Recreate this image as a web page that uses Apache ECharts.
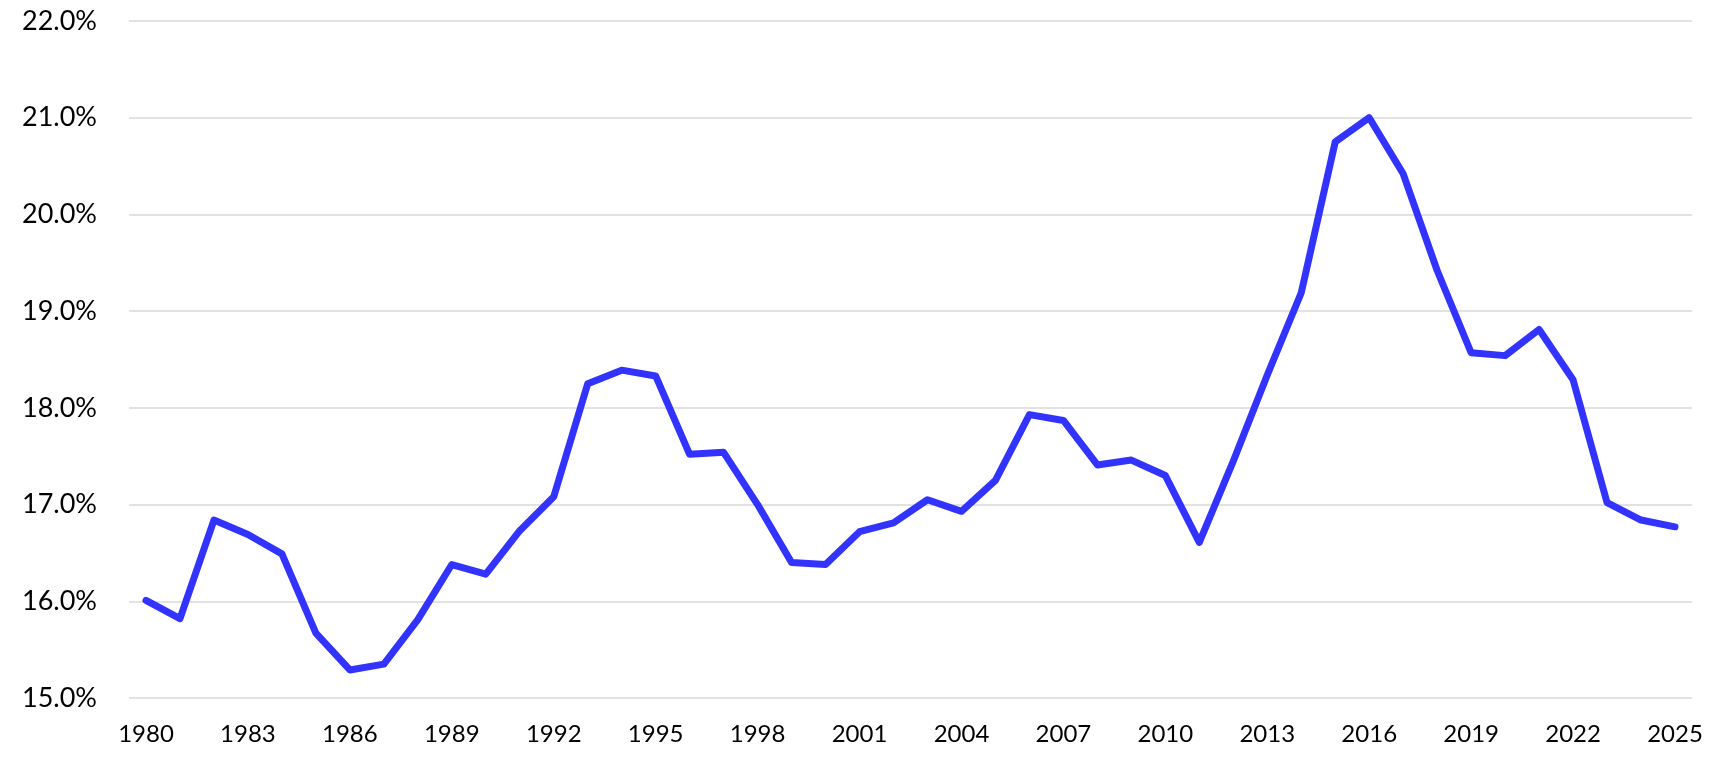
<!DOCTYPE html>
<html>
<head>
<meta charset="utf-8">
<script src="https://cdn.jsdelivr.net/npm/echarts@6/dist/echarts.min.js"></script>
<style>
  html, body { margin: 0; padding: 0; background: #fff; }
  #chart { width: 1725px; height: 764px; }
</style>
</head>
<body>
<div id="chart"></div>
<script>
// years on the x axis
var years = [];
for (var y = 1980; y <= 2025; y++) years.push(String(y));

// share, in percent
var shareValues = [
  16.01, 15.82, 16.84, 16.69, 16.49, 15.67, 15.29, 15.35, 15.81, 16.38,
  16.28, 16.73, 17.08, 18.25, 18.39, 18.33, 17.52, 17.54, 17.00, 16.40,
  16.38, 16.72, 16.81, 17.05, 16.93, 17.25, 17.93, 17.87, 17.41, 17.46,
  17.30, 16.61, 17.45, 18.34, 19.19, 20.75, 21.00, 20.42, 19.42, 18.57,
  18.54, 18.81, 18.29, 17.02, 16.84, 16.77
];

var yMin = 15, yMax = 22, yStep = 1;

function draw_chart(){
    var chart = echarts.init(document.getElementById('chart'));
    var option = {
        animation: false,
        backgroundColor: '#fff',
        grid: { left: 129, right: 33, top: 21, bottom: 66 },
        xAxis: {
            type: 'category',
            data: years,
            boundaryGap: true,
            axisLine: { show: false },
            axisTick: { show: false },
            axisLabel: {
                interval: 2,
                margin: 24,
                color: '#000',
                fontFamily: 'Lato',
                fontSize: 24
            }
        },
        yAxis: {
            type: 'value',
            min: yMin,
            max: yMax,
            interval: yStep,
            axisLine: { show: false },
            axisTick: { show: false },
            axisLabel: {
                margin: 32,
                color: '#000',
                fontFamily: 'Lato',
                fontSize: 27,
                formatter: function(v){ return v.toFixed(1) + '%'; }
            },
            splitLine: { lineStyle: { color: '#d9d9d9', width: 1.5 } }
        },
        series: [
            {
                type: 'line',
                data: shareValues,
                showSymbol: false,
                symbol: 'none',
                lineStyle: { color: '#3333ff', width: 7, cap: 'round', join: 'round' }
            }
        ]
    };
    chart.setOption(option);
}

draw_chart();
</script>
</body>
</html>
